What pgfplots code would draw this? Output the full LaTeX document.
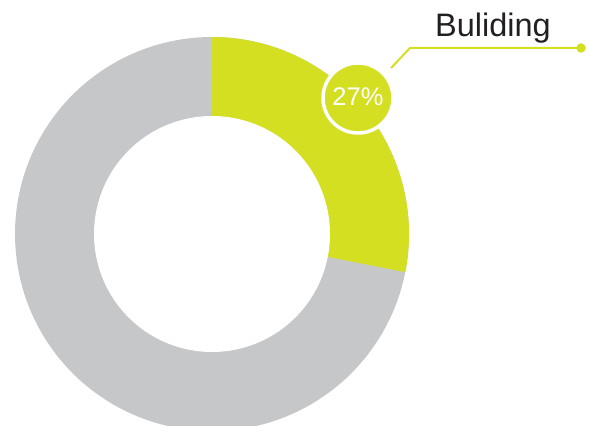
\documentclass[border=0pt]{standalone}
\usepackage{pgfplots}
\pgfplotsset{compat=1.18}
\usepackage{pgfplotstable}
\usepackage{fontspec}
\setmainfont{Liberation Sans}
\definecolor{yel}{HTML}{D4DF22}
\definecolor{gry}{HTML}{C6C7C9}
\definecolor{txt}{HTML}{231F20}
% share of the highlighted segment (as drawn) and its label
\pgfplotstableread{
name share label
Buliding 28.1 27
}\donutdata
\pgfplotstablegetelem{0}{share}\of\donutdata
\let\share\pgfplotsretval
\pgfmathsetmacro\angEnd{90-3.6*\share}
\begin{document}
\begin{tikzpicture}
\begin{axis}[
  scale only axis, width=590bp, height=425bp,
  xmin=0, xmax=590, ymin=0, ymax=425, y dir=reverse,
  axis line style={draw=none}, xtick=\empty, ytick=\empty,
  clip=true, set layers,
]
% full ring (grey)
\addplot[fill=gry, draw=none, domain=0:360, samples=241, variable=\t]
  ({212+197*cos(\t)},{234-197*sin(\t)}) -- cycle;
% highlighted segment
\addplot[fill=yel, draw=none, domain=\angEnd:90, samples=121, variable=\t]
  ({212+197*cos(\t)},{234-197*sin(\t)}) -- (axis cs:212,234) -- cycle;
% hole
\addplot[fill=white, draw=none, domain=0:360, samples=241, variable=\t]
  ({212+118*cos(\t)},{234-118*sin(\t)}) -- cycle;
% leader line
\addplot[yel, line width=2bp] coordinates {(391,68) (410,48) (581,48)};
\addplot[only marks, mark=*, mark size=4.5bp, color=yel] coordinates {(581,48)};
% label bubble
\addplot[fill=yel, draw=white, line width=3.5bp, domain=0:360, samples=181, variable=\t]
  ({358+35*cos(\t)},{98-35*sin(\t)}) -- cycle;
\node[text=white, font=\fontsize{25.5bp}{27bp}\selectfont] at (axis cs:358,97) {27\%};
\node[anchor=base, text=txt, font=\fontsize{32.5bp}{34bp}\selectfont] at (axis cs:493,37) {Buliding};
\path (rel axis cs:0,0) rectangle (rel axis cs:1,1);
\end{axis}
\end{tikzpicture}
\end{document}
